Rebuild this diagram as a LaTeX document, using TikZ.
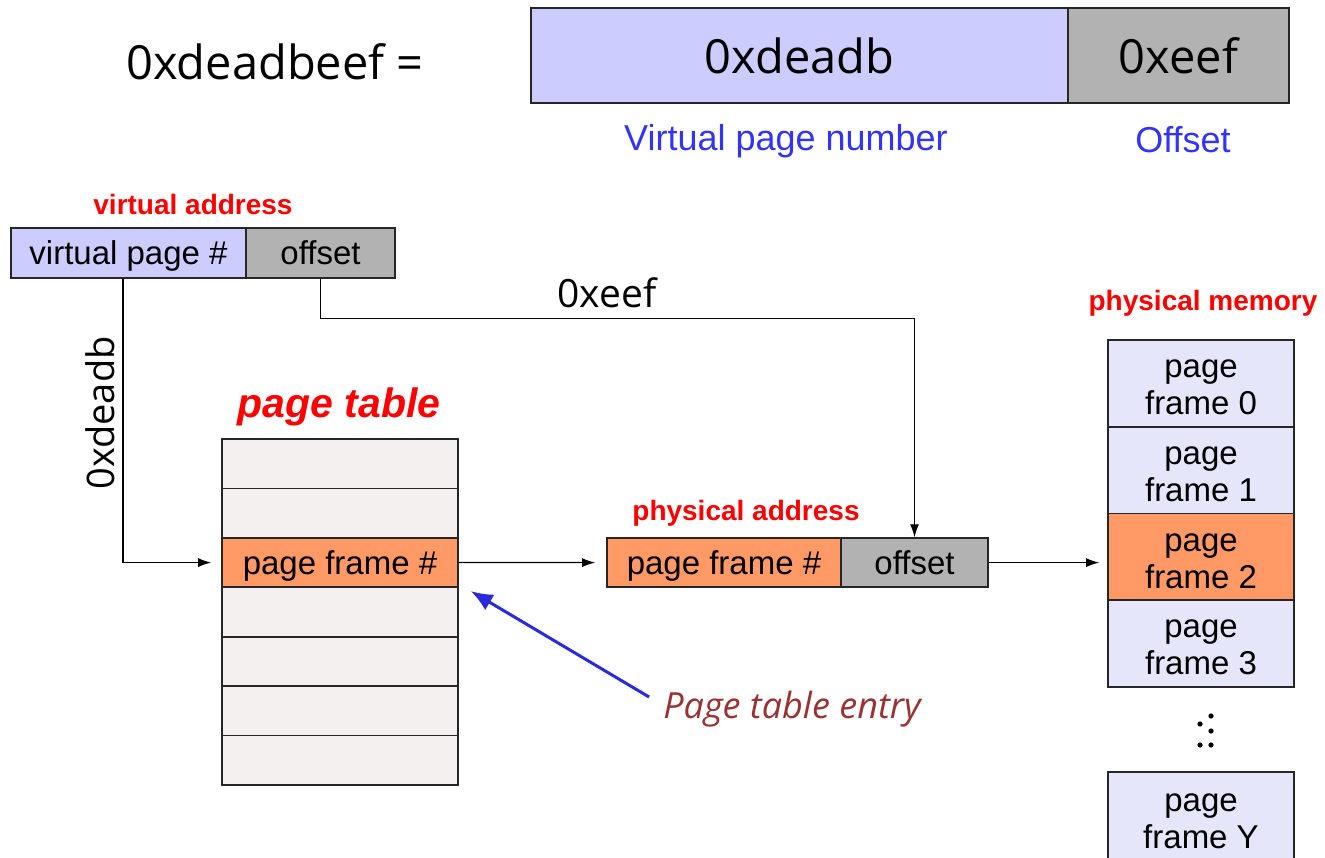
\documentclass[tikz,border=0pt]{standalone}
\usepackage{fontspec}
\setmainfont{Liberation Sans}
\newfontfamily\tah{Open Sans}
\usetikzlibrary{arrows.meta}
\definecolor{lav}{HTML}{CCCCFF}
\definecolor{gry}{HTML}{B2B2B2}
\definecolor{org}{HTML}{FF9966}
\definecolor{tbl}{HTML}{F4F0F0}
\definecolor{mem}{HTML}{E6E6FA}
\definecolor{lblblue}{HTML}{3333FF}
\definecolor{arrblue}{HTML}{2A2ADD}
\definecolor{pte}{HTML}{993333}
\begin{document}
\begin{tikzpicture}[x=1pt,y=-1pt,
  frame/.style={draw=black!85, line width=1.6pt, inner sep=0pt},
  box/.style={frame, font=\fontsize{33}{37}\selectfont, text height=31pt, text depth=7pt},
  memtxt/.style={inner sep=0pt, align=center, font=\fontsize{33}{37}\selectfont},
  bigbox/.style={frame, font=\tah\fontsize{47}{50}\selectfont},
  redlbl/.style={text=red, font=\bfseries\fontsize{28}{30}\selectfont, inner sep=0pt},
  bluelbl/.style={text=lblblue, font=\fontsize{36}{40}\selectfont, inner sep=0pt},
  arr/.style={line width=1.3pt, -{Latex[length=13pt,width=9pt]}},
  bluearr/.style={line width=3pt, draw=arrblue, -{Latex[length=22pt,width=18pt]}}
]
\useasboundingbox (0,0) rectangle (1325,858);

% top equation
\node[font=\tah\fontsize{47}{50}\selectfont, inner sep=0pt] (eq) at (275,62) {0xdeadbeef =};
\node[bigbox, fill=lav, minimum width=537pt, minimum height=95pt] (tvpn) at (799.5,55.5) {0xdeadb};
\node[bigbox, fill=gry, minimum width=221pt, minimum height=95pt] (toff) at (1178.5,55.5) {0xeef};
\node[bluelbl] (lvpn) at (786,141) {Virtual page number};
\node[bluelbl] (loff) at (1183,140) {Offset};

% virtual address
\node[redlbl] (lva) at (193,204) {virtual address};
\node[box, fill=lav, minimum width=235pt, minimum height=50pt] (vvpn) at (128.5,253) {virtual page \#};
\node[box, fill=gry, minimum width=149pt, minimum height=50pt] (voff) at (320.5,253) {offset};

% page table
\node[text=red, font=\bfseries\itshape\fontsize{41}{44}\selectfont, inner sep=0pt] (lpt) at (339,407) {page table};
\foreach \i in {0,...,6}{
  \node[frame, fill=tbl, minimum width=236pt, minimum height=49.43pt] (pt\i) at (340,{439+49.43*(\i+0.5)}) {};
}
\node[box, fill=org, minimum width=236pt, minimum height=49.43pt] (pt2) at (340,{439+49.43*2.5}) {page frame \#};

% physical address
\node[redlbl] (lpa) at (746,513) {physical address};
\node[box, fill=org, minimum width=234pt, minimum height=49pt] (ppfn) at (724,562.6) {page frame \#};
\node[box, fill=gry, minimum width=147pt, minimum height=49pt] (poff) at (914.5,562.6) {offset};

% physical memory
\node[redlbl] (lpm) at (1203,303) {physical memory};
\foreach \i/\c in {0/mem,1/mem,2/org,3/mem}{
  \node[frame, fill=\c, minimum width=186pt, minimum height=86.75pt] (m\i) at (1201,{340+86.75*(\i+0.5)}) {};
  \node[memtxt] (mt\i) at ([yshift=-4pt]m\i.center) {page\\frame \i};
}
\node[frame, fill=mem, minimum width=186pt, minimum height=96pt] (mY) at (1201,820) {};
\node[memtxt] (mtY) at (1201,821) {page\\frame Y};
\foreach \p in {(1211,716),(1200,724),(1211,731),(1200,745),(1211,745)}{
  \fill \p circle (2.6pt);
}

% connectors
\node[font=\tah\fontsize{38}{40}\selectfont, rotate=90, inner sep=0pt] (ldb) at (100,413) {0xdeadb};
\node[font=\tah\fontsize{39}{40}\selectfont, inner sep=0pt] (lef) at (607,293) {0xeef};
\draw[arr, shorten >=10pt] ([xshift=-5.5pt]vvpn.south) |- (pt2.west);
\draw[arr] (voff.south) -- ++(0,40) -| (poff.north);
\draw[arr, shorten >=11pt] (pt2.east) -- (ppfn.west);
\draw[arr, shorten >=8pt] (poff.east) -- (poff.east -| m2.west);

% page table entry
\node[text=pte, font=\tah\itshape\fontsize{36}{40}\selectfont, inner sep=0pt] (lpte) at (792,709) {Page table entry};
\draw[bluearr] ([shift={(-14,-12)}]lpte.west) -- ([shift={(12,3)}]pt2.south east);
\end{tikzpicture}
\end{document}
